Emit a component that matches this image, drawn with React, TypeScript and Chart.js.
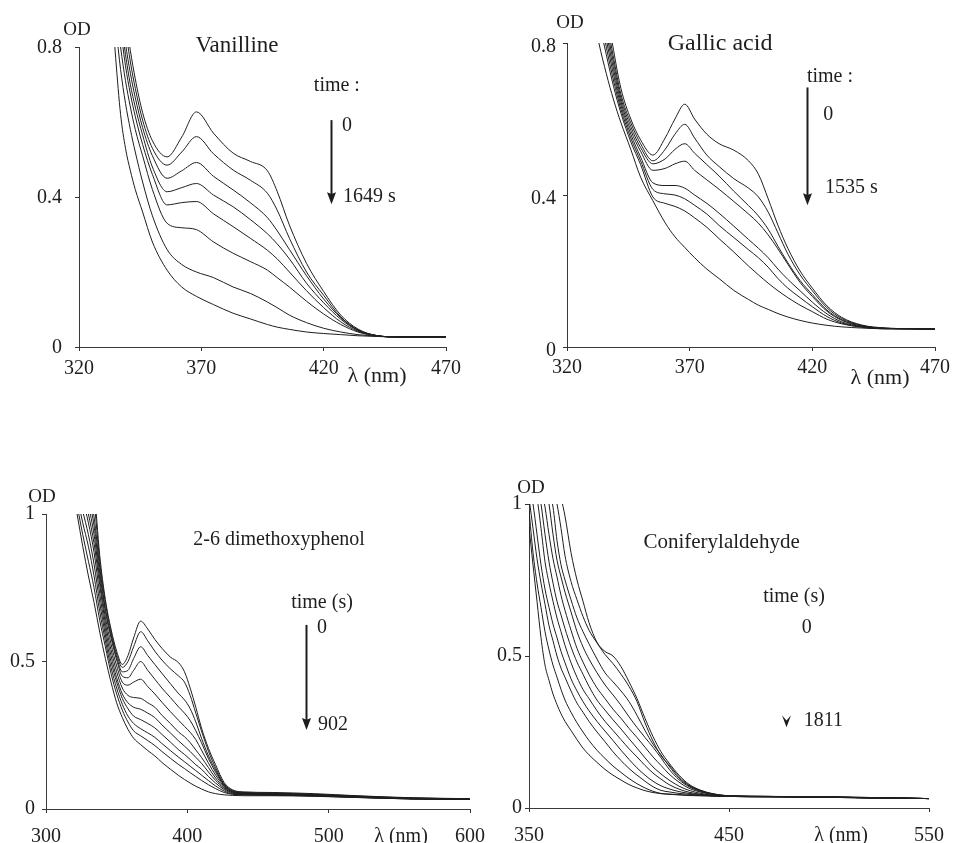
import React, { useEffect, useRef } from "react";
import { Chart, registerables } from "chart.js";

Chart.register(...registerables);

const SERIF = "'Liberation Serif', 'Times New Roman', serif";
const INK = "#1e1e1e";

// ---------------- Vanilline ----------------
const VAN_WL = [333, 335, 337, 339, 341, 343, 346, 350, 356, 362, 368, 375, 383, 390, 397, 401, 406, 413, 420, 427, 434, 442, 450, 460, 470];
const VAN_OD = [
  [1.3, 1.15, 1.0, 0.88, 0.79, 0.715, 0.625, 0.55, 0.507, 0.56, 0.627, 0.57, 0.517, 0.495, 0.47, 0.415, 0.325, 0.223, 0.148, 0.085, 0.048, 0.03, 0.027, 0.027, 0.027],
  [1.25, 1.1, 0.96, 0.85, 0.76, 0.69, 0.605, 0.53, 0.485, 0.52, 0.561, 0.515, 0.472, 0.445, 0.41, 0.365, 0.29, 0.2, 0.138, 0.08, 0.046, 0.03, 0.027, 0.027, 0.027],
  [1.2, 1.05, 0.92, 0.81, 0.73, 0.665, 0.585, 0.51, 0.45, 0.47, 0.492, 0.455, 0.419, 0.385, 0.345, 0.31, 0.26, 0.19, 0.128, 0.078, 0.045, 0.03, 0.027, 0.027, 0.027],
  [1.15, 1.0, 0.88, 0.78, 0.7, 0.64, 0.565, 0.48, 0.414, 0.425, 0.436, 0.405, 0.374, 0.34, 0.302, 0.275, 0.235, 0.17, 0.118, 0.074, 0.044, 0.03, 0.027, 0.027, 0.027],
  [1.1, 0.96, 0.85, 0.75, 0.675, 0.615, 0.54, 0.46, 0.379, 0.385, 0.388, 0.355, 0.321, 0.29, 0.258, 0.235, 0.2, 0.15, 0.105, 0.067, 0.042, 0.03, 0.027, 0.027, 0.027],
  [1.05, 0.92, 0.8, 0.71, 0.64, 0.58, 0.51, 0.42, 0.33, 0.318, 0.313, 0.28, 0.25, 0.228, 0.205, 0.185, 0.16, 0.122, 0.088, 0.06, 0.04, 0.029, 0.027, 0.027, 0.027],
  [1.0, 0.86, 0.74, 0.65, 0.58, 0.52, 0.44, 0.35, 0.26, 0.22, 0.2, 0.185, 0.16, 0.143, 0.12, 0.105, 0.085, 0.065, 0.05, 0.04, 0.033, 0.029, 0.027, 0.027, 0.027],
  [0.95, 0.77, 0.62, 0.53, 0.47, 0.42, 0.36, 0.28, 0.205, 0.16, 0.135, 0.113, 0.09, 0.075, 0.06, 0.053, 0.047, 0.04, 0.036, 0.033, 0.03, 0.028, 0.027, 0.027, 0.027],
];

// ---------------- Gallic acid ----------------
const GAL_WL = [330, 333, 336, 339, 342, 346, 350, 355, 360, 364, 368, 372, 377, 382, 388, 394, 398, 402, 406, 410, 415, 420, 426, 432, 440, 450, 460, 470];
const GAL_OD = [
  [1.2, 1.05, 0.9, 0.78, 0.68, 0.6, 0.545, 0.505, 0.55, 0.6, 0.639, 0.6, 0.56, 0.535, 0.518, 0.49, 0.455, 0.39, 0.32, 0.26, 0.2, 0.155, 0.108, 0.078, 0.058, 0.05, 0.048, 0.047],
  [1.15, 1.0, 0.87, 0.76, 0.665, 0.59, 0.535, 0.49, 0.52, 0.56, 0.586, 0.55, 0.505, 0.475, 0.443, 0.418, 0.395, 0.355, 0.3, 0.245, 0.19, 0.148, 0.103, 0.075, 0.057, 0.049, 0.048, 0.047],
  [1.1, 0.97, 0.85, 0.745, 0.655, 0.58, 0.525, 0.482, 0.495, 0.52, 0.535, 0.51, 0.48, 0.45, 0.41, 0.372, 0.345, 0.31, 0.265, 0.222, 0.175, 0.138, 0.097, 0.072, 0.056, 0.049, 0.048, 0.047],
  [1.06, 0.94, 0.83, 0.73, 0.645, 0.57, 0.515, 0.465, 0.47, 0.482, 0.489, 0.465, 0.44, 0.415, 0.383, 0.35, 0.326, 0.295, 0.258, 0.218, 0.17, 0.133, 0.094, 0.07, 0.055, 0.049, 0.048, 0.047],
  [1.03, 0.91, 0.81, 0.715, 0.635, 0.56, 0.5, 0.432, 0.425, 0.425, 0.418, 0.4, 0.378, 0.352, 0.318, 0.283, 0.26, 0.235, 0.205, 0.178, 0.148, 0.118, 0.087, 0.066, 0.054, 0.049, 0.048, 0.047],
  [1.0, 0.89, 0.79, 0.7, 0.625, 0.55, 0.49, 0.415, 0.403, 0.4, 0.39, 0.373, 0.35, 0.32, 0.288, 0.256, 0.235, 0.21, 0.18, 0.155, 0.13, 0.106, 0.08, 0.063, 0.053, 0.048, 0.048, 0.047],
  [0.97, 0.86, 0.77, 0.685, 0.615, 0.54, 0.48, 0.395, 0.378, 0.37, 0.358, 0.34, 0.315, 0.285, 0.25, 0.213, 0.19, 0.168, 0.148, 0.13, 0.11, 0.093, 0.073, 0.061, 0.052, 0.048, 0.048, 0.047],
  [0.9, 0.8, 0.72, 0.65, 0.59, 0.52, 0.447, 0.385, 0.327, 0.29, 0.262, 0.235, 0.205, 0.18, 0.149, 0.125, 0.11, 0.099, 0.088, 0.079, 0.07, 0.063, 0.057, 0.053, 0.05, 0.048, 0.048, 0.047],
];

// ---------------- 2-6 dimethoxyphenol ----------------
const DMP_WL = [322, 326, 330, 334, 338, 342, 346, 350, 354, 358, 362, 367, 372, 377, 382, 388, 394, 398, 402, 406, 410, 415, 420, 426, 432, 440, 460, 490, 520, 560, 600];
const DMP_OD = [
  [1.3, 1.22, 1.15, 1.08, 0.86, 0.71, 0.61, 0.535, 0.49, 0.52, 0.58, 0.637, 0.61, 0.575, 0.545, 0.515, 0.495, 0.465, 0.41, 0.345, 0.275, 0.205, 0.15, 0.09, 0.065, 0.058, 0.056, 0.052, 0.045, 0.038, 0.035],
  [1.28, 1.2, 1.12, 1.04, 0.84, 0.7, 0.6, 0.525, 0.48, 0.5, 0.55, 0.601, 0.57, 0.535, 0.505, 0.475, 0.45, 0.43, 0.385, 0.325, 0.265, 0.195, 0.14, 0.085, 0.063, 0.056, 0.054, 0.05, 0.044, 0.037, 0.035],
  [1.25, 1.17, 1.09, 0.99, 0.82, 0.68, 0.59, 0.515, 0.465, 0.47, 0.51, 0.55, 0.52, 0.49, 0.46, 0.425, 0.39, 0.37, 0.34, 0.295, 0.24, 0.18, 0.132, 0.082, 0.061, 0.055, 0.053, 0.049, 0.043, 0.037, 0.034],
  [1.22, 1.14, 1.06, 0.96, 0.8, 0.67, 0.58, 0.505, 0.45, 0.445, 0.47, 0.5, 0.47, 0.44, 0.41, 0.378, 0.345, 0.325, 0.3, 0.265, 0.225, 0.17, 0.125, 0.08, 0.06, 0.054, 0.052, 0.048, 0.042, 0.036, 0.034],
  [1.19, 1.11, 1.03, 0.93, 0.78, 0.65, 0.56, 0.485, 0.43, 0.42, 0.43, 0.44, 0.415, 0.39, 0.362, 0.33, 0.3, 0.28, 0.26, 0.235, 0.2, 0.155, 0.115, 0.077, 0.058, 0.053, 0.051, 0.047, 0.042, 0.036, 0.034],
  [1.16, 1.08, 1.0, 0.9, 0.76, 0.63, 0.54, 0.465, 0.41, 0.385, 0.378, 0.375, 0.36, 0.345, 0.318, 0.29, 0.26, 0.245, 0.225, 0.2, 0.175, 0.14, 0.105, 0.073, 0.057, 0.052, 0.05, 0.046, 0.041, 0.035, 0.033],
  [1.13, 1.05, 0.97, 0.87, 0.73, 0.61, 0.52, 0.445, 0.39, 0.36, 0.345, 0.338, 0.325, 0.31, 0.285, 0.258, 0.23, 0.213, 0.195, 0.175, 0.155, 0.125, 0.097, 0.07, 0.055, 0.051, 0.049, 0.046, 0.041, 0.035, 0.033],
  [1.1, 1.01, 0.93, 0.83, 0.7, 0.59, 0.5, 0.43, 0.375, 0.34, 0.315, 0.303, 0.29, 0.275, 0.253, 0.227, 0.2, 0.185, 0.168, 0.15, 0.135, 0.11, 0.088, 0.066, 0.053, 0.05, 0.048, 0.045, 0.04, 0.035, 0.033],
  [1.06, 0.97, 0.89, 0.79, 0.67, 0.57, 0.48, 0.41, 0.355, 0.315, 0.29, 0.272, 0.258, 0.243, 0.222, 0.198, 0.175, 0.16, 0.145, 0.13, 0.115, 0.096, 0.078, 0.061, 0.051, 0.049, 0.047, 0.045, 0.04, 0.034, 0.033],
  [1.03, 0.93, 0.84, 0.75, 0.64, 0.55, 0.46, 0.39, 0.335, 0.295, 0.265, 0.248, 0.232, 0.215, 0.195, 0.172, 0.15, 0.137, 0.123, 0.11, 0.097, 0.082, 0.069, 0.056, 0.05, 0.048, 0.047, 0.044, 0.039, 0.034, 0.033],
  [1.0, 0.89, 0.79, 0.7, 0.6, 0.51, 0.43, 0.36, 0.31, 0.27, 0.24, 0.218, 0.198, 0.18, 0.158, 0.135, 0.113, 0.1, 0.088, 0.077, 0.068, 0.058, 0.052, 0.048, 0.046, 0.045, 0.045, 0.043, 0.039, 0.034, 0.033],
];

// ---------------- Coniferylaldehyde ----------------
const CON_WL = [350, 352, 354, 356, 358, 360, 362, 364, 366, 368, 371, 374, 377, 380, 384, 388, 392, 396, 400, 404, 408, 412, 416, 420, 425, 430, 436, 442, 450, 470, 500, 525, 550];
const CON_OD = [
  [1.4, 1.36, 1.32, 1.27, 1.22, 1.17, 1.12, 1.07, 1.02, 0.96, 0.84, 0.75, 0.68, 0.61, 0.545, 0.515, 0.5, 0.465, 0.415, 0.36, 0.295, 0.235, 0.185, 0.148, 0.108, 0.078, 0.058, 0.047, 0.04, 0.038, 0.037, 0.034, 0.031],
  [1.36, 1.32, 1.28, 1.23, 1.18, 1.12, 1.06, 1.0, 0.92, 0.83, 0.745, 0.685, 0.63, 0.585, 0.543, 0.505, 0.475, 0.44, 0.4, 0.35, 0.28, 0.22, 0.172, 0.142, 0.103, 0.075, 0.057, 0.046, 0.04, 0.038, 0.037, 0.034, 0.031],
  [1.3, 1.25, 1.2, 1.15, 1.1, 1.05, 0.99, 0.88, 0.8, 0.75, 0.685, 0.625, 0.58, 0.54, 0.49, 0.445, 0.415, 0.385, 0.35, 0.305, 0.255, 0.21, 0.175, 0.138, 0.098, 0.073, 0.056, 0.046, 0.04, 0.038, 0.036, 0.033, 0.031],
  [1.27, 1.22, 1.17, 1.12, 1.07, 1.0, 0.9, 0.815, 0.76, 0.71, 0.645, 0.58, 0.53, 0.49, 0.445, 0.405, 0.372, 0.338, 0.3, 0.265, 0.232, 0.2, 0.165, 0.128, 0.093, 0.07, 0.054, 0.045, 0.04, 0.038, 0.036, 0.033, 0.031],
  [1.22, 1.17, 1.12, 1.06, 0.99, 0.9, 0.82, 0.76, 0.7, 0.65, 0.585, 0.525, 0.48, 0.44, 0.395, 0.36, 0.325, 0.295, 0.262, 0.232, 0.2, 0.168, 0.14, 0.112, 0.085, 0.065, 0.052, 0.044, 0.039, 0.038, 0.036, 0.033, 0.031],
  [1.17, 1.12, 1.07, 1.0, 0.9, 0.81, 0.74, 0.68, 0.635, 0.59, 0.53, 0.48, 0.44, 0.4, 0.355, 0.322, 0.29, 0.26, 0.228, 0.197, 0.165, 0.135, 0.112, 0.092, 0.072, 0.058, 0.048, 0.042, 0.039, 0.038, 0.036, 0.033, 0.031],
  [1.12, 1.07, 1.02, 0.92, 0.81, 0.74, 0.68, 0.625, 0.58, 0.535, 0.478, 0.43, 0.39, 0.36, 0.32, 0.285, 0.255, 0.225, 0.195, 0.168, 0.14, 0.115, 0.095, 0.077, 0.062, 0.052, 0.045, 0.041, 0.038, 0.037, 0.036, 0.033, 0.031],
  [1.07, 1.0, 0.9, 0.8, 0.72, 0.66, 0.605, 0.56, 0.515, 0.478, 0.425, 0.385, 0.35, 0.32, 0.285, 0.253, 0.222, 0.19, 0.16, 0.132, 0.108, 0.088, 0.073, 0.063, 0.054, 0.048, 0.043, 0.04, 0.038, 0.037, 0.035, 0.033, 0.031],
  [1.02, 0.92, 0.82, 0.74, 0.67, 0.6, 0.55, 0.5, 0.46, 0.43, 0.385, 0.345, 0.315, 0.285, 0.25, 0.218, 0.185, 0.156, 0.13, 0.108, 0.088, 0.07, 0.058, 0.053, 0.048, 0.045, 0.042, 0.04, 0.038, 0.037, 0.035, 0.033, 0.031],
  [0.98, 0.84, 0.74, 0.66, 0.58, 0.52, 0.47, 0.43, 0.39, 0.355, 0.315, 0.28, 0.25, 0.222, 0.19, 0.163, 0.138, 0.117, 0.097, 0.08, 0.066, 0.055, 0.048, 0.046, 0.044, 0.042, 0.041, 0.04, 0.038, 0.037, 0.035, 0.033, 0.031],
  [0.925, 0.8, 0.68, 0.56, 0.47, 0.42, 0.375, 0.34, 0.31, 0.285, 0.255, 0.225, 0.197, 0.175, 0.15, 0.127, 0.108, 0.092, 0.077, 0.066, 0.057, 0.051, 0.047, 0.045, 0.043, 0.041, 0.04, 0.039, 0.038, 0.037, 0.035, 0.033, 0.031],
];

type Note = { text: string; x: number; y: number; size: number; align?: CanvasTextAlign };
type Arrow = { x: number; y1: number; y2: number; shaft: boolean; notch: number; hw: number };

interface Panel {
  wl: number[];
  curves: number[][];
  xMin: number; xMax: number; xStep: number;
  yMax: number; yStep: number;
  area: { left: number; top: number; right: number; bottom: number };
  yWidth: number; xHeight: number;
  yPad: number; xPad: number; yFont: number; xFont: number; yLabelOffset: number;
  od: { dx: number; dy: number };
  notes: Note[];
  arrow: Arrow;
}

const W = 956;
const H = 843;

const PANELS: Panel[] = [
  {
    wl: VAN_WL, curves: VAN_OD,
    xMin: 320, xMax: 470, xStep: 50, yMax: 0.8, yStep: 0.4,
    area: { left: 79, top: 47, right: 446, bottom: 347 },
    yWidth: 79, xHeight: 53, yPad: 13, xPad: 6, yFont: 20, xFont: 20, yLabelOffset: 1,
    od: { dx: -2, dy: -17 },
    notes: [
      { text: "Vanilline", x: 384.6, y: 0.803, size: 23 },
      { text: "time :", x: 425.4, y: 0.696, size: 20 },
      { text: "0", x: 427.5, y: 0.589, size: 20, align: "left" },
      { text: "1649 s", x: 427.9, y: 0.4, size: 20, align: "left" },
      { text: "λ (nm)", x: 441.8, y: -0.077, size: 22 },
    ],
    arrow: { x: 422.9, y1: 0.605, y2: 0.381, shaft: true, notch: 0.85, hw: 4.5 },
  },
  {
    wl: GAL_WL, curves: GAL_OD,
    xMin: 320, xMax: 470, xStep: 50, yMax: 0.8, yStep: 0.4,
    area: { left: 567, top: 43, right: 935, bottom: 347 },
    yWidth: 60, xHeight: 53, yPad: 7, xPad: 5, yFont: 20, xFont: 20, yLabelOffset: 4,
    od: { dx: 3, dy: -20 },
    notes: [
      { text: "Gallic acid", x: 382.4, y: 0.797, size: 24 },
      { text: "time :", x: 427.2, y: 0.71, size: 20 },
      { text: "0", x: 424.4, y: 0.61, size: 20, align: "left" },
      { text: "1535 s", x: 425.2, y: 0.42, size: 20, align: "left" },
      { text: "λ (nm)", x: 447.6, y: -0.082, size: 22 },
    ],
    arrow: { x: 418, y1: 0.683, y2: 0.373, shaft: true, notch: 0.85, hw: 4.5 },
  },
  {
    wl: DMP_WL, curves: DMP_OD,
    xMin: 300, xMax: 600, xStep: 100, yMax: 1, yStep: 0.5,
    area: { left: 46, top: 514, right: 470, bottom: 809 },
    yWidth: 46, xHeight: 34, yPad: 7, xPad: 12, yFont: 20, xFont: 20, yLabelOffset: 0,
    od: { dx: -4, dy: -17 },
    notes: [
      { text: "2-6 dimethoxyphenol", x: 464.9, y: 0.912, size: 20 },
      { text: "time (s)", x: 495.3, y: 0.698, size: 20 },
      { text: "0", x: 491.8, y: 0.614, size: 20, align: "left" },
      { text: "902", x: 492.5, y: 0.285, size: 20, align: "left" },
      { text: "λ (nm)", x: 551.2, y: -0.095, size: 20 },
    ],
    arrow: { x: 484, y1: 0.624, y2: 0.268, shaft: true, notch: 0.85, hw: 4.5 },
  },
  {
    wl: CON_WL, curves: CON_OD,
    xMin: 350, xMax: 550, xStep: 100, yMax: 1, yStep: 0.5,
    area: { left: 529, top: 504, right: 938, bottom: 808 },
    yWidth: 40, xHeight: 35, yPad: 3, xPad: 12, yFont: 20, xFont: 20, yLabelOffset: 0,
    od: { dx: 2, dy: -16 },
    notes: [
      { text: "Coniferylaldehyde", x: 446.3, y: 0.875, size: 21 },
      { text: "time (s)", x: 482.5, y: 0.694, size: 20 },
      { text: "0", x: 488.9, y: 0.592, size: 20 },
      { text: "1811", x: 487.4, y: 0.286, size: 20, align: "left" },
      { text: "λ (nm)", x: 506, y: -0.092, size: 20 },
    ],
    arrow: { x: 478.6, y1: 0.32, y2: 0.266, shaft: false, notch: 0.55, hw: 4.5 },
  },
];

function makeNotesPlugin(p: Panel) {
  return {
    id: "notes",
    afterDraw(chart: any) {
      const { ctx, chartArea, scales } = chart;
      const xs = scales.x;
      const ys = scales.y;
      ctx.save();
      ctx.fillStyle = INK;
      ctx.strokeStyle = INK;
      ctx.textBaseline = "middle";
      ctx.font = `19px ${SERIF}`;
      ctx.textAlign = "center";
      ctx.fillText("OD", chartArea.left + p.od.dx, chartArea.top + p.od.dy);
      for (const n of p.notes) {
        ctx.font = `${n.size}px ${SERIF}`;
        ctx.textAlign = n.align || "center";
        ctx.fillText(n.text, xs.getPixelForValue(n.x), ys.getPixelForValue(n.y));
      }
      const a = p.arrow;
      const ax = Math.round(xs.getPixelForValue(a.x)) + 0.5;
      const y1 = ys.getPixelForValue(a.y1);
      const y2 = ys.getPixelForValue(a.y2);
      const hl = 12;
      if (a.shaft) {
        ctx.lineWidth = 2;
        ctx.beginPath();
        ctx.moveTo(ax, y1);
        ctx.lineTo(ax, y2 - hl + 2);
        ctx.stroke();
      }
      ctx.beginPath();
      ctx.moveTo(ax, y2);
      ctx.lineTo(ax - a.hw, y2 - hl);
      ctx.lineTo(ax, y2 - hl * a.notch);
      ctx.lineTo(ax + a.hw, y2 - hl);
      ctx.closePath();
      ctx.fill();
      ctx.restore();
    },
  };
}

function PanelChart({ p }: { p: Panel }) {
  const ref = useRef<HTMLCanvasElement | null>(null);
  useEffect(() => {
    if (!ref.current) return;
    const datasets = p.curves.map((vals, i) => ({
      label: `t${i}`,
      data: p.wl.map((x, j) => ({ x, y: vals[j] })),
      borderColor: INK,
      borderWidth: 1,
      pointRadius: 0,
      fill: false,
      cubicInterpolationMode: "monotone" as const,
    }));
    const chart = new Chart(ref.current, {
      type: "line",
      data: { datasets },
      options: {
        animation: false,
        responsive: false,
        events: [],
        layout: {
          padding: {
            left: p.area.left - p.yWidth,
            top: p.area.top,
            right: W - p.area.right,
            bottom: H - p.area.bottom - p.xHeight,
          },
        },
        plugins: {
          legend: { display: false },
          tooltip: { enabled: false },
          title: { display: false },
        },
        scales: {
          x: {
            type: "linear",
            min: p.xMin,
            max: p.xMax,
            afterFit: (s: any) => { s.height = p.xHeight; },
            ticks: {
              stepSize: p.xStep,
              autoSkip: false,
              maxRotation: 0,
              padding: p.xPad,
              color: INK,
              font: { family: SERIF, size: p.xFont },
              callback: (v: any) => String(v),
            },
            grid: { drawOnChartArea: false, drawTicks: true, tickLength: 4, color: "#333" },
            border: { display: true, color: "#3a3a3a", width: 1 },
          },
          y: {
            type: "linear",
            min: 0,
            max: p.yMax,
            afterFit: (s: any) => { s.width = p.yWidth; },
            ticks: {
              stepSize: p.yStep,
              padding: p.yPad,
              labelOffset: p.yLabelOffset,
              color: INK,
              font: { family: SERIF, size: p.yFont },
              callback: (v: any) => String(Math.round(Number(v) * 10) / 10),
            },
            grid: { drawOnChartArea: false, drawTicks: true, tickLength: 4, color: "#333" },
            border: { display: true, color: "#3a3a3a", width: 1 },
          },
        },
      },
      plugins: [makeNotesPlugin(p)],
    } as any);
    return () => chart.destroy();
  }, [p]);
  return (
    <canvas
      ref={ref}
      width={W}
      height={H}
      style={{ position: "absolute", left: 0, top: 0, width: W, height: H }}
    />
  );
}

export default function App() {
  return (
    <div style={{ position: "absolute", left: 0, top: 0, width: W, height: H, background: "#fff", overflow: "hidden" }}>
      {PANELS.map((p, i) => (
        <PanelChart key={i} p={p} />
      ))}
    </div>
  );
}
